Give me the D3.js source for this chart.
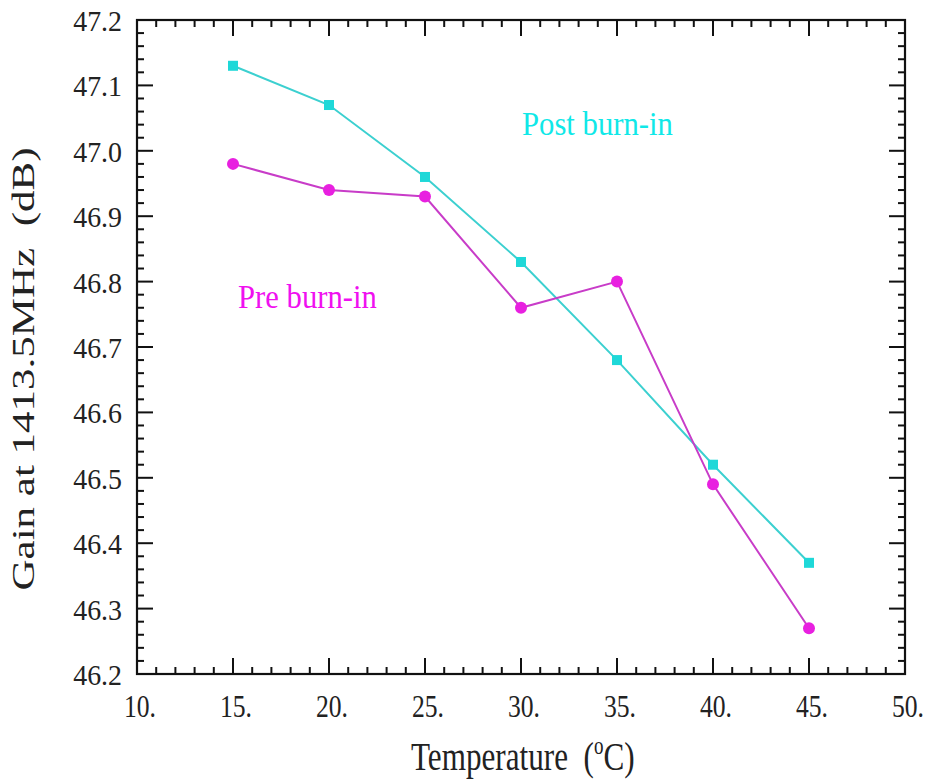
<!DOCTYPE html>
<html><head><meta charset="utf-8">
<script src="https://cdn.jsdelivr.net/npm/d3@7"></script>
<style>body{margin:0;background:#fff;} svg{display:block;}</style>
</head><body>
<svg id="chart" width="927" height="781"></svg>
<script>
const temperatures = [15, 20, 25, 30, 35, 40, 45];
const postBurnIn = [47.13, 47.07, 46.96, 46.83, 46.68, 46.52, 46.37];
const preBurnIn = [46.98, 46.94, 46.93, 46.76, 46.80, 46.49, 46.27];
const xTicks = [10, 15, 20, 25, 30, 35, 40, 45, 50];
const yTicks = [46.2, 46.3, 46.4, 46.5, 46.6, 46.7, 46.8, 46.9, 47.0, 47.1, 47.2];
const xLabel = "Temperature";
const yLabel = "Gain at 1413.5MHz\u00a0\u00a0(dB)";
const postLabel = "Post burn-in";
const preLabel = "Pre burn-in";

const svg = d3.select("#chart");
const L = 137, R = 905, T = 20, B = 674;
const x = d3.scaleLinear().domain([10, 50]).range([L, R]);
const y = d3.scaleLinear().domain([46.2, 47.2]).range([B, T]);
const font = "'Liberation Serif','Times New Roman',serif";

svg.append("rect").attr("width", 927).attr("height", 781).attr("fill", "#fff");

// ticks (major + minor, inward, on all four sides)
const xMinor = d3.range(10, 50.001, 1);
const yMinor = d3.range(0, 51).map(i => 46.2 + i * 0.02);
const tk = svg.append("g").attr("stroke", "#111").attr("stroke-width", 2);
xMinor.forEach(v => {
  const major = Math.abs(v % 5) < 1e-6;
  const len = major ? 16 : 7;
  tk.append("line").attr("x1", x(v)).attr("x2", x(v)).attr("y1", B).attr("y2", B - len);
  tk.append("line").attr("x1", x(v)).attr("x2", x(v)).attr("y1", T).attr("y2", T + len);
});
yMinor.forEach((v, i) => {
  const major = i % 5 === 0;
  const len = major ? 16 : 7;
  tk.append("line").attr("y1", y(v)).attr("y2", y(v)).attr("x1", L).attr("x2", L + len);
  tk.append("line").attr("y1", y(v)).attr("y2", y(v)).attr("x1", R).attr("x2", R - len);
});

// frame
svg.append("rect").attr("x", L).attr("y", T).attr("width", R - L).attr("height", B - T)
  .attr("fill", "none").attr("stroke", "#111").attr("stroke-width", 2.2);

// tick labels
svg.append("g").selectAll("text").data(xTicks).join("text")
  .attr("transform", d => `translate(${x(d) - 13},717) scale(0.8,1)`)
  .attr("font-family", font).attr("font-size", 32).attr("fill", "#222")
  .text(d => d + ".");
svg.append("g").selectAll("text").data(yTicks).join("text")
  .attr("transform", d => `translate(122,${y(d) + 11}) scale(0.93,1)`)
  .attr("text-anchor", "end")
  .attr("font-family", font).attr("font-size", 30).attr("fill", "#222")
  .text(d => d.toFixed(1));

// axis titles
const xt = svg.append("text").attr("transform", "translate(411,770) scale(0.76,1)")
  .attr("font-family", font).attr("font-size", 41).attr("fill", "#222");
xt.append("tspan").text(xLabel + "\u00a0\u00a0(");
xt.append("tspan").attr("font-size", 25).attr("dy", -16).text("o");
xt.append("tspan").attr("dy", 16).text("C)");

svg.append("text").attr("transform", "translate(34,369) rotate(-90) scale(1,0.72)")
  .attr("text-anchor", "middle")
  .attr("font-family", font).attr("font-size", 43).attr("fill", "#222")
  .text(yLabel);

// series
const line = d3.line().x((d, i) => x(temperatures[i])).y(d => y(d));
svg.append("path").datum(postBurnIn).attr("d", line)
  .attr("fill", "none").attr("stroke", "#3cd0d0").attr("stroke-width", 2);
svg.append("path").datum(preBurnIn).attr("d", line)
  .attr("fill", "none").attr("stroke", "#c83cc8").attr("stroke-width", 2);

svg.append("g").selectAll("rect").data(postBurnIn).join("rect")
  .attr("x", (d, i) => x(temperatures[i]) - 5).attr("y", d => y(d) - 5)
  .attr("width", 10).attr("height", 10).attr("fill", "#1ed8d8");
svg.append("g").selectAll("circle").data(preBurnIn).join("circle")
  .attr("cx", (d, i) => x(temperatures[i])).attr("cy", d => y(d))
  .attr("r", 6).attr("fill", "#e820e0");

// labels
svg.append("text").attr("transform", "translate(522,135) scale(0.93,1)")
  .attr("font-family", font).attr("font-size", 33).attr("fill", "#10e8e8").text(postLabel);
svg.append("text").attr("transform", "translate(238,308) scale(0.93,1)")
  .attr("font-family", font).attr("font-size", 33).attr("fill", "#f010f0").text(preLabel);
</script>
</body></html>
